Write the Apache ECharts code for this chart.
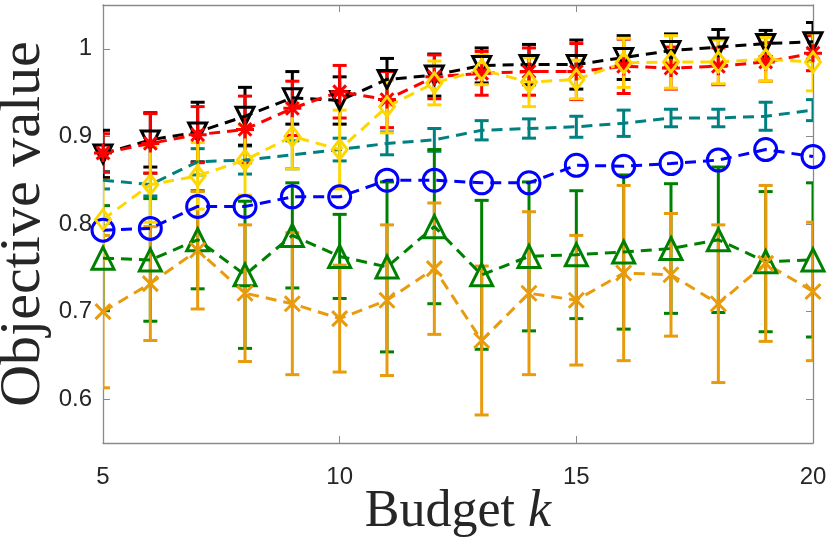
<!DOCTYPE html>
<html>
<head>
<meta charset="utf-8">
<script src="https://cdn.jsdelivr.net/npm/echarts@6/dist/echarts.min.js"></script>
<style>
    html, body { margin: 0; padding: 0; background: #fff; }
    #main { width: 830px; height: 541px; }
</style>
</head>
<body>
<div id="main"></div>
<script>
// x 軸: 預算 k
const budgets = [5, 6, 7, 8, 9, 10, 11, 12, 13, 14, 15, 16, 17, 18, 19, 20];
const xTicks = [5, 10, 15, 20];
const yTicks = [0.6, 0.7, 0.8, 0.9, 1];

// 各方法的平均值與誤差
const blackMean = [0.880, 0.896, 0.905, 0.923, 0.944, 0.941, 0.965, 0.970, 0.981, 0.982, 0.982, 0.990, 0.998, 1.002, 1.006, 1.008];
const blackErr = [0.027, 0.031, 0.034, 0.033, 0.030, 0.027, 0.024, 0.024, 0.020, 0.023, 0.028, 0.025, 0.019, 0.020, 0.015, 0.022];

const redMean = [0.881, 0.892, 0.902, 0.908, 0.932, 0.951, 0.942, 0.968, 0.972, 0.974, 0.974, 0.980, 0.978, 0.980, 0.985, 0.995];
const redErr = [0.022, 0.034, 0.032, 0.038, 0.031, 0.030, 0.032, 0.025, 0.025, 0.027, 0.032, 0.031, 0.024, 0.021, 0.022, 0.020];

const yellowMean = [0.805, 0.845, 0.855, 0.873, 0.900, 0.885, 0.934, 0.961, 0.976, 0.962, 0.965, 0.984, 0.985, 0.985, 0.988, 0.985];
const yellowErr = [0.045, 0.043, 0.038, 0.040, 0.037, 0.045, 0.030, 0.025, 0.017, 0.028, 0.022, 0.028, 0.030, 0.025, 0.025, 0.033];

const tealMean = [0.850, 0.845, 0.871, 0.873, 0.879, 0.885, 0.892, 0.896, 0.907, 0.909, 0.911, 0.915, 0.921, 0.921, 0.923, 0.930];
const tealErr = [0.010, 0.013, 0.015, 0.016, 0.016, 0.013, 0.013, 0.013, 0.011, 0.011, 0.012, 0.015, 0.010, 0.010, 0.016, 0.012];

const blueMean = [0.793, 0.795, 0.820, 0.820, 0.831, 0.831, 0.850, 0.850, 0.847, 0.847, 0.867, 0.866, 0.869, 0.873, 0.885, 0.877];

const greenMean = [0.761, 0.759, 0.782, 0.742, 0.787, 0.763, 0.751, 0.797, 0.742, 0.763, 0.765, 0.768, 0.772, 0.782, 0.757, 0.759];
const greenErr = [0.060, 0.070, 0.056, 0.084, 0.060, 0.048, 0.097, 0.088, 0.085, 0.085, 0.073, 0.088, 0.074, 0.083, 0.080, 0.088];

const orangeMean = [0.700, 0.732, 0.770, 0.721, 0.709, 0.692, 0.713, 0.749, 0.667, 0.721, 0.713, 0.744, 0.742, 0.709, 0.755, 0.723];
const orangeErr = [0.087, 0.065, 0.067, 0.078, 0.081, 0.061, 0.086, 0.075, 0.085, 0.093, 0.074, 0.100, 0.070, 0.090, 0.089, 0.079];

let chart = echarts.init(document.getElementById("main"));

const axisColor = "#8a8a8a";
const textColor = "#262626";
const dash = [11, 7];
const lw = 3;

// 星號、叉號的路徑
const starPath = "path://M12,0L12,24M0,12L24,12M3.5,3.5L20.5,20.5M3.5,20.5L20.5,3.5";
const crossPath = "path://M0,0L24,24M0,24L24,0";

// 誤差條
function errorBars(mean, err, color) {
    return {
        type: "custom",
        data: budgets.map((k, i) => [k, mean[i] - err[i], mean[i] + err[i]]),
        encode: { x: 0, y: [1, 2] },
        clip: true,
        silent: true,
        renderItem: (params, api) => {
            let lo = api.coord([api.value(0), api.value(1)]);
            let hi = api.coord([api.value(0), api.value(2)]);
            let w = 7;
            let style = { stroke: color, lineWidth: lw, fill: null };
            return {
                type: "group",
                children: [
                    { type: "line", shape: { x1: lo[0], y1: lo[1], x2: hi[0], y2: hi[1] }, style: style },
                    { type: "line", shape: { x1: lo[0] - w, y1: lo[1], x2: lo[0] + w, y2: lo[1] }, style: style },
                    { type: "line", shape: { x1: hi[0] - w, y1: hi[1], x2: hi[0] + w, y2: hi[1] }, style: style }
                ]
            };
        }
    };
}

// 虛線加標記
function dashedLine(mean, color, symbol, size, rotate = 0) {
    return {
        type: "line",
        data: budgets.map((k, i) => [k, mean[i]]),
        symbol: symbol,
        symbolSize: size,
        symbolRotate: rotate,
        showAllSymbol: true,
        clip: false,
        silent: true,
        lineStyle: { color: color, width: lw, type: dash },
        itemStyle: { color: "transparent", borderColor: color, borderWidth: lw }
    };
}

const teal = "#008080";
const blue = "#0000ff";
const green = "#008000";
const orange = "#e89b0c";
const black = "#000000";
const red = "#ff0000";
const yellow = "#ffd700";

let option = {
    animation: false,
    backgroundColor: "#fff",
    grid: { left: 103, right: 17, top: 5, bottom: 98, containLabel: false, outerBoundsMode: "none" },
    xAxis: [
        {
            type: "value",
            min: 5, max: 20,
            position: "bottom",
            name: "{a|Budget }{b|k}",
            nameLocation: "middle",
            nameGap: 43,
            nameMoveOverlap: false,
            nameTextStyle: {
                rich: {
                    a: { fontFamily: "Liberation Serif", fontSize: 52, color: textColor },
                    b: { fontFamily: "Liberation Serif", fontSize: 52, fontStyle: "italic", color: textColor }
                }
            },
            axisLine: { onZero: false, lineStyle: { color: axisColor, width: 1.3 } },
            axisTick: { inside: true, length: 7, customValues: xTicks, lineStyle: { color: axisColor } },
            axisLabel: {
                customValues: xTicks,
                margin: 22,
                fontFamily: "Liberation Sans Narrow, Liberation Sans",
                fontSize: 24,
                color: textColor
            },
            splitLine: { show: false }
        },
        {
            type: "value",
            min: 5, max: 20,
            position: "top",
            axisLine: { onZero: false, lineStyle: { color: axisColor, width: 1.3 } },
            axisTick: { inside: true, length: 7, customValues: xTicks, lineStyle: { color: axisColor } },
            axisLabel: { show: false },
            splitLine: { show: false }
        }
    ],
    yAxis: [
        {
            type: "value",
            min: 0.55, max: 1.05,
            position: "left",
            name: "Objective value",
            nameLocation: "middle",
            nameRotate: 90,
            nameGap: 50,
            nameMoveOverlap: false,
            nameTextStyle: { fontFamily: "Liberation Serif", fontSize: 58, color: textColor },
            axisLine: { onZero: false, lineStyle: { color: axisColor, width: 1.3 } },
            axisTick: { inside: true, length: 7, customValues: yTicks, lineStyle: { color: axisColor } },
            axisLabel: {
                customValues: yTicks,
                margin: 11,
                fontFamily: "Liberation Sans Narrow, Liberation Sans",
                fontSize: 24,
                color: textColor
            },
            splitLine: { show: false }
        },
        {
            type: "value",
            min: 0.55, max: 1.05,
            position: "right",
            axisLine: { onZero: false, lineStyle: { color: axisColor, width: 1.3 } },
            axisTick: { inside: true, length: 7, customValues: yTicks, lineStyle: { color: axisColor } },
            axisLabel: { show: false },
            splitLine: { show: false }
        }
    ],
    series: [
        errorBars(tealMean, tealErr, teal),
        dashedLine(tealMean, teal, "none", 0),
        dashedLine(blueMean, blue, "circle", 22),
        errorBars(greenMean, greenErr, green),
        dashedLine(greenMean, green, "triangle", 22),
        errorBars(orangeMean, orangeErr, orange),
        dashedLine(orangeMean, orange, crossPath, 15),
        errorBars(blackMean, blackErr, black),
        dashedLine(blackMean, black, "triangle", 18, 180),
        errorBars(redMean, redErr, red),
        dashedLine(redMean, red, starPath, 18),
        errorBars(yellowMean, yellowErr, yellow),
        dashedLine(yellowMean, yellow, "diamond", [15, 20])
    ]
};

chart.setOption(option);

window.onresize = () => {
    chart.resize();
};
</script>
</body>
</html>
